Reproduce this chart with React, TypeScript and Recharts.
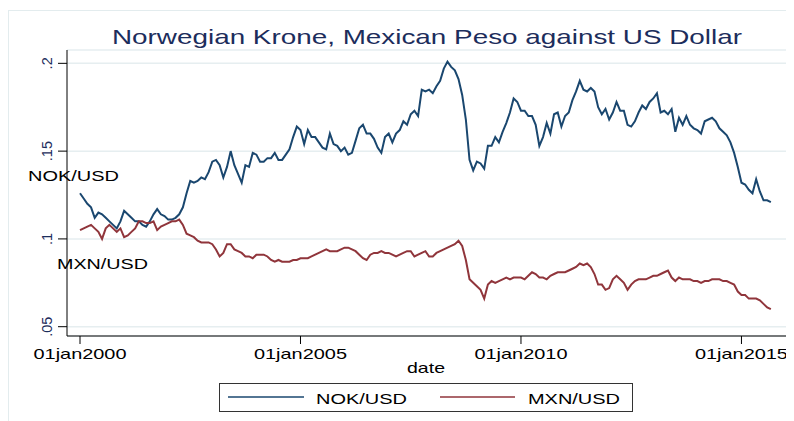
import React from "react";
import { LineChart, Line, XAxis, YAxis, CartesianGrid } from "recharts";

// monthly observations, first one is jan 2000
const START_YEAR = 2000;

const nokUsd = [
  // 2000
  0.126, 0.123, 0.12, 0.118, 0.112, 0.115, 0.114, 0.112, 0.11, 0.108, 0.106, 0.11,
  // 2001
  0.116, 0.114, 0.112, 0.11, 0.11, 0.108, 0.107, 0.11, 0.114, 0.117, 0.114, 0.113,
  // 2002
  0.111, 0.111, 0.112, 0.114, 0.118, 0.126, 0.133, 0.132, 0.133, 0.135, 0.134, 0.138,
  // 2003
  0.144, 0.145, 0.142, 0.135, 0.141, 0.15, 0.142, 0.137, 0.132, 0.142, 0.141, 0.149,
  // 2004
  0.148, 0.144, 0.144, 0.146, 0.146, 0.149, 0.145, 0.145, 0.148, 0.151, 0.158, 0.164,
  // 2005
  0.162, 0.154, 0.162, 0.158, 0.158, 0.155, 0.152, 0.151, 0.16, 0.154, 0.153, 0.15,
  // 2006
  0.152, 0.148, 0.149, 0.156, 0.163, 0.165, 0.16, 0.16, 0.157, 0.152, 0.149, 0.158,
  // 2007
  0.16, 0.155, 0.16, 0.162, 0.167, 0.165, 0.171, 0.173, 0.17, 0.185, 0.184, 0.185,
  // 2008
  0.183, 0.187, 0.19, 0.197, 0.201, 0.198, 0.196, 0.191, 0.182, 0.168, 0.145, 0.139,
  // 2009
  0.144, 0.143, 0.14, 0.153, 0.153, 0.158, 0.155, 0.161, 0.166, 0.172, 0.18, 0.178,
  // 2010
  0.173, 0.173, 0.17, 0.17, 0.165, 0.153, 0.158, 0.166, 0.16, 0.171, 0.172, 0.164,
  // 2011
  0.17, 0.172, 0.179, 0.184, 0.19, 0.185, 0.184, 0.186, 0.184, 0.175, 0.171, 0.174,
  // 2012
  0.168, 0.172, 0.178, 0.173, 0.173, 0.165, 0.164, 0.167, 0.172, 0.176, 0.174, 0.178,
  // 2013
  0.18, 0.183, 0.172, 0.173, 0.171, 0.174, 0.161, 0.169, 0.165, 0.17, 0.165, 0.163,
  // 2014
  0.162, 0.16, 0.167, 0.168, 0.169, 0.167, 0.163, 0.161, 0.159, 0.155, 0.149, 0.141,
  // 2015
  0.132, 0.131, 0.128, 0.126, 0.134, 0.127, 0.122, 0.122, 0.121,
];

const mxnUsd = [
  // 2000
  0.105, 0.106, 0.107, 0.108, 0.106, 0.104, 0.1, 0.106, 0.108, 0.106, 0.104, 0.106,
  // 2001
  0.101, 0.102, 0.104, 0.106, 0.11, 0.11, 0.109, 0.109, 0.11, 0.105, 0.107, 0.108,
  // 2002
  0.109, 0.11, 0.11, 0.111, 0.108, 0.103, 0.102, 0.101, 0.099, 0.098, 0.098, 0.098,
  // 2003
  0.097, 0.094, 0.09, 0.092, 0.097, 0.097, 0.094, 0.093, 0.092, 0.09, 0.09, 0.089,
  // 2004
  0.091, 0.091, 0.091, 0.09, 0.088, 0.087, 0.088, 0.087, 0.087, 0.087, 0.088, 0.088,
  // 2005
  0.089, 0.089, 0.089, 0.09, 0.091, 0.092, 0.093, 0.094, 0.093, 0.093, 0.093, 0.094,
  // 2006
  0.095, 0.095, 0.094, 0.093, 0.091, 0.089, 0.088, 0.091, 0.092, 0.092, 0.093, 0.092,
  // 2007
  0.092, 0.091, 0.09, 0.091, 0.092, 0.093, 0.093, 0.09, 0.091, 0.092, 0.093, 0.09,
  // 2008
  0.09, 0.092, 0.093, 0.094, 0.095, 0.096, 0.097, 0.099, 0.096, 0.088, 0.077, 0.075,
  // 2009
  0.073, 0.071, 0.066, 0.074, 0.076, 0.075, 0.076, 0.077, 0.078, 0.077, 0.078, 0.078,
  // 2010
  0.078, 0.077, 0.079, 0.081, 0.08, 0.078, 0.078, 0.077, 0.079, 0.08, 0.081, 0.081,
  // 2011
  0.081, 0.082, 0.083, 0.084, 0.086, 0.085, 0.086, 0.084, 0.08, 0.074, 0.074, 0.071,
  // 2012
  0.072, 0.077, 0.079, 0.077, 0.075, 0.071, 0.074, 0.076, 0.077, 0.077, 0.077, 0.078,
  // 2013
  0.079, 0.079, 0.08, 0.081, 0.082, 0.078, 0.076, 0.078, 0.077, 0.077, 0.077, 0.076,
  // 2014
  0.076, 0.075, 0.076, 0.076, 0.077, 0.077, 0.077, 0.076, 0.076, 0.075, 0.074, 0.07,
  // 2015
  0.068, 0.068, 0.066, 0.066, 0.066, 0.065, 0.063, 0.061, 0.06,
];

const xTicks = [2000, 2005, 2010, 2015];
const xTickLabels = ["01jan2000", "01jan2005", "01jan2010", "01jan2015"];
const yTicks = [0.05, 0.1, 0.15, 0.2];
const yTickLabels = [".05", ".1", ".15", ".2"];

const NAVY = "#1c2d5c";
const NOK_COLOR = "#1a476f";
const MXN_COLOR = "#90353b";
const FONT = "'Liberation Sans', Arial, sans-serif";

const data = nokUsd.map((v, i) => ({
  date: START_YEAR + i / 12,
  nok: v,
  mxn: mxnUsd[i],
}));

const XTick = ({ x, payload }: any) => {
  const idx = xTicks.indexOf(payload.value);
  return (
    <text
      x={x}
      y={351}
      textAnchor="middle"
      fontFamily={FONT}
      fontSize={14.5}
      fill="#000"
      textLength={93}
      lengthAdjust="spacingAndGlyphs"
    >
      {xTickLabels[idx]}
    </text>
  );
};

const YTick = ({ x, y, payload }: any) => {
  const idx = yTicks.indexOf(payload.value);
  return (
    <g transform={`translate(${x - 9},${y})`}>
      <text
        transform="rotate(-90)"
        textAnchor="middle"
        dy="0.35em"
        fontFamily={FONT}
        fontSize={14.5}
        fill={NAVY}
      >
        {yTickLabels[idx]}
      </text>
    </g>
  );
};

export default function App() {
  return (
    <div style={{ position: "relative", width: 786, height: 413, background: "#fff" }}>
      <div
        style={{
          position: "absolute",
          left: 0,
          top: 2,
          width: 800,
          height: 420,
          borderLeft: "1px solid #e3ecee",
          borderTop: "1px solid #e3ecee",
        }}
      />
      <div style={{ position: "absolute", left: 0, top: 0 }}>
        <LineChart width={786} height={405} data={data} margin={{ top: 42, right: 8, bottom: 47, left: 0 }}>
          <CartesianGrid vertical={false} stroke="#e6eef0" strokeWidth={1.5} />
          <XAxis
            dataKey="date"
            type="number"
            domain={[1999.705, 2016.01]}
            allowDataOverflow
            ticks={xTicks}
            tick={<XTick />}
            tickSize={8}
            height={30}
            axisLine={{ stroke: "#000" }}
            tickLine={{ stroke: "#000" }}
          />
          <YAxis
            type="number"
            domain={[0.0447, 0.2076]}
            allowDataOverflow
            ticks={yTicks}
            tick={<YTick />}
            tickSize={9}
            width={59}
            axisLine={{ stroke: "#000" }}
            tickLine={{ stroke: "#000" }}
          />
          <Line
            dataKey="nok"
            stroke={NOK_COLOR}
            strokeWidth={2}
            dot={false}
            type="linear"
            isAnimationActive={false}
          />
          <Line
            dataKey="mxn"
            stroke={MXN_COLOR}
            strokeWidth={2}
            dot={false}
            type="linear"
            isAnimationActive={false}
          />
        </LineChart>
      </div>
      <svg
        width={786}
        height={413}
        style={{ position: "absolute", left: 0, top: 0, pointerEvents: "none" }}
        fontFamily={FONT}
      >
        <text x={419} y={36} textAnchor="middle" fontSize={21} fill={NAVY} textLength={630} lengthAdjust="spacingAndGlyphs">
          Norwegian Krone, Mexican Peso against US Dollar
        </text>
        <text x={20} y={173} fontSize={14.5} fill="#000" textLength={91} lengthAdjust="spacingAndGlyphs">
          NOK/USD
        </text>
        <text x={49} y={261} fontSize={14.5} fill="#000" textLength={91} lengthAdjust="spacingAndGlyphs">
          MXN/USD
        </text>
        <text x={399} y={365} fontSize={14.5} fill="#000" textLength={38} lengthAdjust="spacingAndGlyphs">
          date
        </text>
        <rect x={211.5} y={375.5} width={413} height={28} fill="#fff" stroke="#333" strokeWidth={1} />
        <line x1={220} x2={296} y1={389} y2={389} stroke={NOK_COLOR} strokeWidth={1.7} />
        <text x={308} y={396} fontSize={14.5} fill="#000" textLength={91} lengthAdjust="spacingAndGlyphs">
          NOK/USD
        </text>
        <line x1={432} x2={507} y1={389} y2={389} stroke={MXN_COLOR} strokeWidth={1.7} />
        <text x={520} y={396} fontSize={14.5} fill="#000" textLength={92} lengthAdjust="spacingAndGlyphs">
          MXN/USD
        </text>
      </svg>
    </div>
  );
}
